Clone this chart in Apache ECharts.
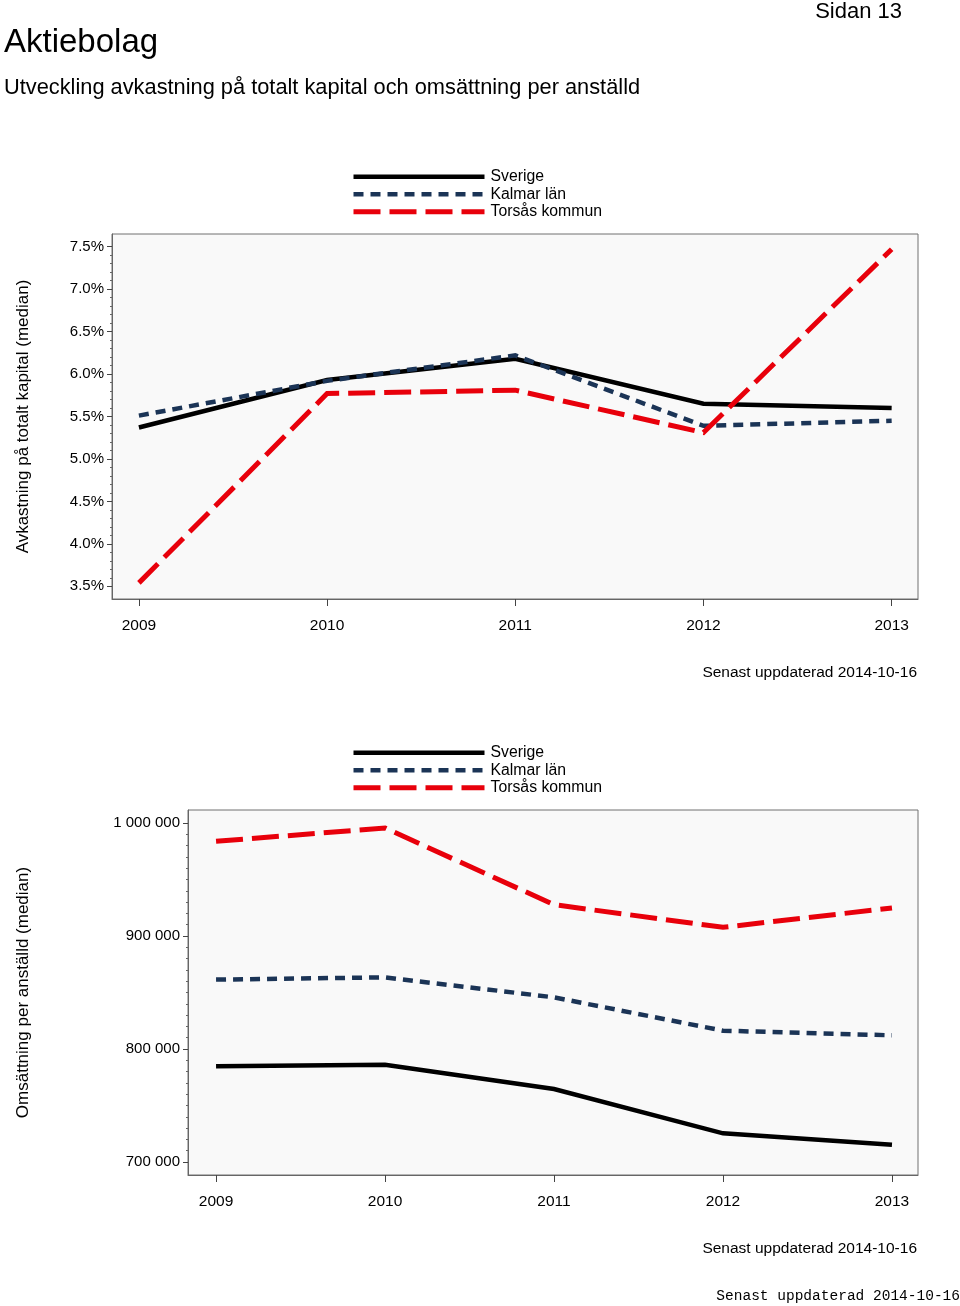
<!DOCTYPE html>
<html>
<head>
<meta charset="utf-8">
<script src="https://cdn.jsdelivr.net/npm/echarts@6/dist/echarts.min.js"></script>
<style>
html,body{margin:0;padding:0;background:#fff;}
#c{width:960px;height:1306px;}
</style>
</head>
<body>
<div id="c"></div>
<script>
// ---- data ----
var years = [2009, 2010, 2011, 2012, 2013];
var seriesNames = ['Sverige', 'Kalmar län', 'Torsås kommun'];

// Chart 1: Avkastning på totalt kapital (median), %
var avkSverige = [5.37, 5.93, 6.18, 5.65, 5.60];
var avkKalmar  = [5.51, 5.92, 6.22, 5.39, 5.45];
var avkTorsas  = [3.54, 5.77, 5.81, 5.31, 7.47];
var avkTicks   = [3.5, 4.0, 4.5, 5.0, 5.5, 6.0, 6.5, 7.0, 7.5];

// Chart 2: Omsättning per anställd (median), kr
var omsSverige = [784700, 786100, 764600, 725400, 715300];
var omsKalmar  = [861400, 863400, 845700, 816200, 812100];
var omsTorsas  = [983800, 995600, 927700, 907700, 924800];
var omsTicks   = [700000, 800000, 900000, 1000000];

var updatedText = 'Senast uppdaterad 2014-10-16';

// ---- helpers ----
function pairs(vals){ return years.map(function(y,i){ return [y, vals[i]]; }); }
function minorOf(ticks, steps){
  var out = [];
  for (var i = 0; i < ticks.length - 1; i++){
    var a = ticks[i], b = ticks[i+1];
    for (var k = 1; k < steps; k++) out.push(a + (b - a) * k / steps);
  }
  return out;
}
function spaced(v){ return String(Math.round(v)).replace(/\B(?=(\d{3})+(?!\d))/g, ' '); }

var FONT = '"Liberation Sans", Arial, sans-serif';
var styles = [
  {color:'#000000', width:4.5, type:'solid'},
  {color:'#1b3456', width:4.5, type:[10,7]},
  {color:'#e8000b', width:5, type:[27,9]}
];

function makeSeries(gridIdx, lists){
  return lists.map(function(vals, i){
    return {
      name: seriesNames[i], type: 'line',
      xAxisIndex: gridIdx, yAxisIndex: gridIdx,
      data: pairs(vals), symbol: 'none', showSymbol:false,
      lineStyle: {color: styles[i].color, width: styles[i].width, type: styles[i].type, cap:'butt', join:'miter'},
      itemStyle: {color: styles[i].color},
      z: 3 + i,
      silent: true, animation: false
    };
  });
}

function legendData(){
  return seriesNames.map(function(n, i){
    return {name:n, lineStyle:{width: styles[i].width, type: styles[i].type, color: styles[i].color, cap:'butt'},
            itemStyle:{opacity:0, borderWidth:0}};
  });
}

function xAxisDef(gridIdx, min, max){
  return {
    type:'value', gridIndex: gridIdx, min:min, max:max,
    splitLine:{show:false},
    axisLine:{show:true, onZero:false, lineStyle:{color:'#666', width:1}},
    axisTick:{show:true, customValues: years, length:7, lineStyle:{color:'#444'}},
    axisLabel:{show:true, customValues: years, formatter:function(v){return String(v);}, margin:19,
      fontFamily:FONT, fontSize:15.5, color:'#000'}
  };
}
function yAxisDef(gridIdx, min, max, ticks, fmt, name, nameGap){
  return {
    type:'value', gridIndex: gridIdx, min:min, max:max,
    splitLine:{show:false},
    axisLine:{show:true, lineStyle:{color:'#666', width:1}},
    axisTick:{show:true, customValues: ticks, length:5, lineStyle:{color:'#444'}},
    axisLabel:{show:true, customValues: ticks, formatter: fmt, margin:8,
      fontFamily:FONT, fontSize:15, color:'#000'},
    name: name, nameLocation:'middle', nameGap: nameGap, nameRotate: 90,
    nameTextStyle:{fontFamily:FONT, fontSize:17, color:'#000'}
  };
}
function minorAxis(gridIdx, min, max, vals){
  return {
    type:'value', gridIndex: gridIdx, min:min, max:max, position:'left',
    splitLine:{show:false}, axisLine:{show:false},
    axisTick:{show:true, customValues: vals, length:2, lineStyle:{color:'#666'}},
    axisLabel:{show:false}
  };
}

var y1min = 3.35, y1max = 7.65;
var y2min = 688500, y2max = 1011500;

var option = {
  animation:false,
  backgroundColor:'#ffffff',
  grid:[
    {left:112, right:42, top:234, height:365, show:true, backgroundColor:'#f9f9f9', borderColor:'#707070', borderWidth:1},
    {left:188, right:42, top:810, height:365, show:true, backgroundColor:'#f9f9f9', borderColor:'#707070', borderWidth:1}
  ],
  legend:[
    {orient:'vertical', left:346, top:163.5, itemWidth:131, itemHeight:14, itemGap:1,
     data: legendData(), selectedMode:false, textStyle:{fontFamily:FONT, fontSize:15.8, lineHeight:16.5, color:'#000', padding:[0,0,0,1]}},
    {orient:'vertical', left:346, top:739.5, itemWidth:131, itemHeight:14, itemGap:1,
     data: legendData(), selectedMode:false, textStyle:{fontFamily:FONT, fontSize:15.8, lineHeight:16.5, color:'#000', padding:[0,0,0,1]}}
  ],
  xAxis:[ xAxisDef(0, 2008.857, 2013.14), xAxisDef(1, 2008.834, 2013.154) ],
  yAxis:[
    yAxisDef(0, y1min, y1max, avkTicks, function(v){ return v.toFixed(1) + '%'; }, 'Avkastning på totalt kapital (median)', 80),
    yAxisDef(1, y2min, y2max, omsTicks, spaced, 'Omsättning per anställd (median)', 156),
    minorAxis(0, y1min, y1max, minorOf(avkTicks, 5)),
    minorAxis(1, y2min, y2max, minorOf(omsTicks, 10))
  ],
  series: [].concat(
    makeSeries(0, [avkSverige, avkKalmar, avkTorsas]),
    makeSeries(1, [omsSverige, omsKalmar, omsTorsas])
  ),
  graphic:[
    {type:'text', left:4, top:26, style:{text:'Aktiebolag', fontFamily:FONT, fontSize:33, fill:'#000'}},
    {type:'text', left:4, top:77, style:{text:'Utveckling avkastning på totalt kapital och omsättning per anställd', fontFamily:FONT, fontSize:21.8, fill:'#000'}},
    {type:'text', right:58, top:1, style:{text:'Sidan 13', fontFamily:FONT, fontSize:22, fill:'#000'}},
    {type:'text', right:43, top:665, style:{text:updatedText, fontFamily:FONT, fontSize:15.5, fill:'#000'}},
    {type:'text', right:43, top:1241, style:{text:updatedText, fontFamily:FONT, fontSize:15.5, fill:'#000'}},
    {type:'text', right:0, top:1289, style:{text:updatedText, fontFamily:'"Liberation Mono", "DejaVu Sans Mono", monospace', fontSize:14.5, fill:'#000'}}
  ]
};

var chart = echarts.init(document.getElementById('c'), null, {renderer:'canvas'});
chart.setOption(option);
</script>
</body>
</html>
